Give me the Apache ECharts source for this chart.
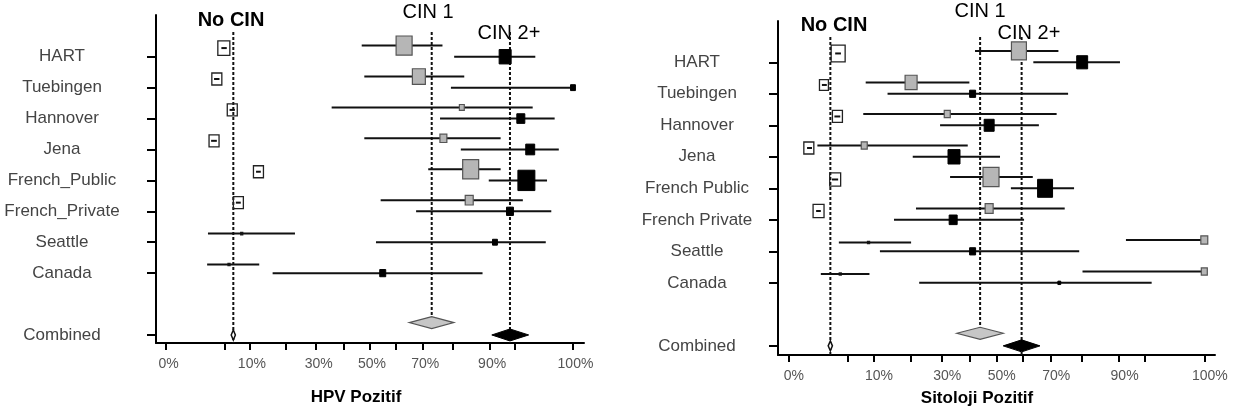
<!DOCTYPE html>
<html>
<head>
<meta charset="utf-8">
<script src="https://cdn.jsdelivr.net/npm/echarts@6/dist/echarts.min.js"></script>
<style>
  html, body { margin: 0; background: #fff; }
  #chart { width: 1241px; height: 414px; }
</style>
</head>
<body>
<div id="chart"></div>
<script>
const studiesHpv = ['HART', 'Tuebingen', 'Hannover', 'Jena', 'French_Public', 'French_Private', 'Seattle', 'Canada']
const studiesCyt = ['HART', 'Tuebingen', 'Hannover', 'Jena', 'French Public', 'French Private', 'Seattle', 'Canada']
const combinedLabel = 'Combined'
const groupNames = ['No CIN', 'CIN 1', 'CIN 2+']

// [estimate, lower, upper] in %, null = not shown
const hpvNoCin = [[4.9, 4.5, 5.4], [3.8, 3.4, 4.2], [6.4, 5.9, 6.9], [3.4, 3.0, 3.8], [12.2, 11.6, 12.8], [7.6, 7.1, 8.1], [8.3, 2.6, 22.8], [5.8, 2.5, 12.4]]
const hpvCin1 = [[63.2, 47.0, 76.7], [68.6, 48.0, 83.4], [82.7, 35.6, 97.6], [77.0, 48.0, 92.4], [85.2, 71.9, 92.4], [84.8, 54.3, 96.3], null, null]
const hpvCin2 = [[93.3, 80.4, 97.9], [100, 79.4, 100], [96.0, 75.9, 99.5], [97.3, 82.4, 99.7], [96.8, 89.8, 99.0], [94.2, 67.6, 99.3], [91.2, 52.5, 98.9], [55.1, 16.0, 88.3]]
const hpvCombined = [[6.6, 6.2, 7.0], [73.1, 65.1, 80.3], [94.2, 90.5, 97.1]]

const cytNoCin = [[3.5, 3.1, 3.9], [1.8, 1.6, 2.1], [3.4, 3.0, 3.8], [0.6, 0.5, 0.8], [3.1, 2.7, 3.5], [1.3, 1.1, 1.5], [8.9, 3.6, 20.0], [3.8, 1.5, 9.1]]
const cytCin1 = [[58.5, 42.0, 72.6], [20.0, 8.3, 39.9], [31.9, 7.8, 72.0], [8.0, 1.2, 39.3], [48.0, 32.9, 63.6], [47.3, 21.5, 74.7], [100, 91.5, 100], [100, 80.3, 100]]
const cytCin2 = [[80.2, 63.8, 90.2], [41.1, 13.4, 75.8], [47.3, 29.4, 65.8], [34.3, 20.5, 51.4], [68.0, 55.5, 77.7], [34.0, 15.1, 60.4], [41.1, 11.5, 79.3], [72.9, 22.5, 96.1]]
const cytCombined = [[2.5, 2.25, 2.75], [43.9, 35.3, 52.6], [59.5, 52.6, 66.2]]

// relative study weights (box area)
const hpvWeightNoCin = [36, 25, 25, 25, 25, 25, 1, 1]
const hpvWeightCin1 = [64, 42, 6, 12, 64, 16, 0, 0]
const hpvWeightCin2 = [36, 6, 16, 20, 72, 12, 6, 9]
const cytWeightNoCin = [49, 20, 25, 25, 30, 30, 1, 1]
const cytWeightCin1 = [56, 36, 9, 9, 64, 16, 12, 9]
const cytWeightCin2 = [30, 9, 25, 36, 56, 16, 9, 2]

const tickPct = [0, 5, 10, 20, 30, 40, 50, 60, 70, 80, 90, 95, 100]
const labelPct = [0, 10, 30, 50, 70, 90, 100]

// arcsine square-root scale
const tx = (p) => Math.asin(Math.sqrt(p / 100))
const rows = [1, 2, 3, 4, 5, 6, 7, 8, 10]
const offsets = [-0.28, -0.36, 0]
const combinedOffsets = [0, -0.4, 0]
const font = "'Liberation Sans', Arial, sans-serif"

const boxStyles = [
  { fill: 'none', stroke: '#222', lineWidth: 1.3 },
  { fill: '#b6b6b6', stroke: '#555', lineWidth: 1.2 },
  { fill: '#000', stroke: '#000', lineWidth: 1 },
]
const diamondStyles = [
  { fill: '#fff', stroke: '#111', lineWidth: 1.5 },
  { fill: '#c6c6c6', stroke: '#555', lineWidth: 1.2 },
  { fill: '#000', stroke: '#000', lineWidth: 1 },
]

function studySeries(panel, g, values, weights) {
  const data = []
  values.forEach((v, i) => {
    if (!v) return
    data.push([tx(v[0]), rows[i] + offsets[g], tx(v[1]), tx(v[2]), weights[i]])
  })
  return {
    type: 'custom', name: groupNames[g], xAxisIndex: panel, yAxisIndex: panel, z: 3,
    encode: { x: 0, y: 1 }, clip: false, data,
    renderItem(params, api) {
      const y = api.value(1)
      const c = api.coord([api.value(0), y])
      const a = api.coord([api.value(2), y])
      const b = api.coord([api.value(3), y])
      const s = Math.sqrt(api.value(4)) * 2
      const line = { type: 'line', shape: { x1: a[0], y1: a[1], x2: b[0], y2: b[1] }, style: { stroke: '#111', lineWidth: 2 } }
      const box = { type: 'rect', shape: { x: c[0] - s / 2, y: c[1] - s * 0.6, width: s, height: s * 1.2 }, style: boxStyles[g] }
      return { type: 'group', children: g === 0 ? [box, line] : [line, box] }
    },
  }
}

function combinedSeries(panel, combined) {
  const data = combined.map((v, g) => [tx(v[0]), 10 + combinedOffsets[g], tx(v[1]), tx(v[2]), g])
  return {
    type: 'custom', name: combinedLabel, xAxisIndex: panel, yAxisIndex: panel, z: 2,
    encode: { x: 0, y: 1 }, clip: false, data,
    renderItem(params, api) {
      const g = api.value(4)
      const y = api.value(1)
      const c = api.coord([api.value(0), y])
      const a = api.coord([api.value(2), y])
      const b = api.coord([api.value(3), y])
      const top = api.coord([api.value(0), 0.2])
      const h = g === 0 ? 5 : 6
      const bottom = g === 1 ? c[1] : params.coordSys.y + params.coordSys.height
      return {
        type: 'group',
        children: [
          { type: 'line', shape: { x1: c[0], y1: top[1], x2: c[0], y2: bottom }, style: { stroke: '#111', lineWidth: 2, lineDash: [3, 2] } },
          { type: 'polygon', shape: { points: [[a[0], c[1]], [c[0], c[1] - h], [b[0], c[1]], [c[0], c[1] + h]] }, style: diamondStyles[g] },
        ],
      }
    },
  }
}

function xAxis(gridIndex, min, max, shift) {
  return {
    type: 'value', gridIndex, min, max, position: 'bottom',
    splitLine: { show: false },
    axisLine: { onZero: false, lineStyle: { color: '#000', width: 2 } },
    axisTick: { customValues: tickPct.map(tx), length: 7, lineStyle: { color: '#000', width: 2 } },
    axisLabel: {
      customValues: labelPct.map(tx), margin: 14, color: '#555', fontSize: 14, fontFamily: font,
      padding: [0, 0, 0, shift],
      formatter: (v) => Math.round(Math.sin(v) ** 2 * 100) + '%',
    },
  }
}

function yAxis(gridIndex, min, max, names, margin) {
  return {
    type: 'value', gridIndex, min, max, inverse: true, position: 'left',
    splitLine: { show: false },
    axisLine: { onZero: false, lineStyle: { color: '#000', width: 2 } },
    axisTick: { customValues: rows, length: 9, lineStyle: { color: '#000', width: 2 } },
    axisLabel: {
      customValues: rows, margin, align: 'center', color: '#444', fontSize: 17, fontFamily: font,
      formatter: (v) => (v === 10 ? combinedLabel : names[v - 1]),
    },
  }
}

function text(t, x, y, size, weight) {
  return { type: 'text', style: { text: t, x, y, align: 'center', verticalAlign: 'middle', fill: '#000', font: `${weight} ${size}px ${font}` } }
}

const chart = echarts.init(document.getElementById('chart'))
chart.setOption({
  backgroundColor: '#fff',
  animation: false,
  grid: [
    { left: 156, top: 15, width: 428, height: 328 },
    { left: 778, top: 21, width: 437, height: 334 },
  ],
  xAxis: [xAxis(0, -0.0386, 1.6133, 5), xAxis(1, -0.0389, 1.6112, 11)],
  yAxis: [yAxis(0, -0.35, 10.26, studiesHpv, 94), yAxis(1, -0.31, 10.29, studiesCyt, 81)],
  graphic: [
    text('No CIN', 231, 20, 20, 'bold'),
    text('CIN 1', 428, 12, 20, 'normal'),
    text('CIN 2+', 509, 33, 20, 'normal'),
    text('HPV Pozitif', 356, 397, 17, 'bold'),
    text('No CIN', 834, 25, 20, 'bold'),
    text('CIN 1', 980, 11, 20, 'normal'),
    text('CIN 2+', 1029, 33, 20, 'normal'),
    text('Sitoloji Pozitif', 977, 398, 17, 'bold'),
  ],
  series: [
    combinedSeries(0, hpvCombined),
    studySeries(0, 0, hpvNoCin, hpvWeightNoCin),
    studySeries(0, 1, hpvCin1, hpvWeightCin1),
    studySeries(0, 2, hpvCin2, hpvWeightCin2),
    combinedSeries(1, cytCombined),
    studySeries(1, 0, cytNoCin, cytWeightNoCin),
    studySeries(1, 1, cytCin1, cytWeightCin1),
    studySeries(1, 2, cytCin2, cytWeightCin2),
  ],
})
</script>
</body>
</html>
